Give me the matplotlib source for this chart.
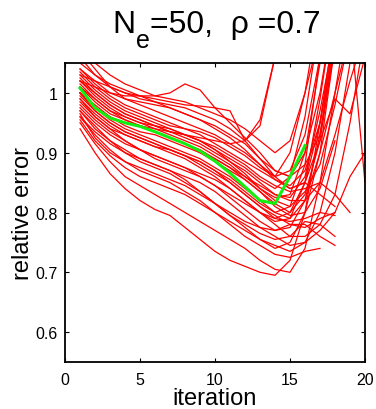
import matplotlib
matplotlib.use("Agg")
import matplotlib.pyplot as plt

plt.rcParams['font.family'] = ['Liberation Sans', 'DejaVu Sans']

# Relative error of each ensemble run per iteration (iterations start at 1)
runs = [
    [0.94, 0.90, 0.865, 0.84, 0.82, 0.805, 0.795, 0.775, 0.755, 0.735, 0.72, 0.71, 0.70, 0.695, 0.72, 0.80, 0.95, 1.12],
    [0.95, 0.915, 0.885, 0.86, 0.845, 0.83, 0.815, 0.80, 0.785, 0.77, 0.755, 0.74, 0.72, 0.705, 0.70, 0.74, 0.85, 1.0, 1.15],
    [0.96, 0.93, 0.905, 0.885, 0.87, 0.86, 0.85, 0.835, 0.82, 0.80, 0.78, 0.76, 0.745, 0.73, 0.725, 0.735, 0.74],
    [0.97, 0.945, 0.92, 0.90, 0.89, 0.88, 0.87, 0.855, 0.835, 0.815, 0.795, 0.775, 0.755, 0.74, 0.75, 0.80, 0.90, 1.08],
    [0.98, 0.955, 0.935, 0.92, 0.905, 0.895, 0.885, 0.875, 0.86, 0.845, 0.825, 0.805, 0.785, 0.77, 0.775, 0.82, 0.93, 1.10],
    [0.99, 0.965, 0.945, 0.93, 0.92, 0.91, 0.90, 0.89, 0.875, 0.86, 0.84, 0.82, 0.80, 0.785, 0.79, 0.85, 0.99, 1.15],
    [1.00, 0.975, 0.955, 0.94, 0.93, 0.92, 0.91, 0.90, 0.89, 0.875, 0.86, 0.84, 0.82, 0.80, 0.81, 0.88, 1.06],
    [1.01, 0.985, 0.965, 0.955, 0.945, 0.935, 0.925, 0.915, 0.90, 0.885, 0.87, 0.855, 0.835, 0.815, 0.80, 0.83, 0.92, 1.08],
    [1.02, 0.995, 0.975, 0.96, 0.95, 0.94, 0.93, 0.92, 0.91, 0.895, 0.88, 0.86, 0.84, 0.825, 0.83, 0.90, 1.05, 1.2],
    [1.03, 1.005, 0.985, 0.97, 0.96, 0.95, 0.94, 0.93, 0.92, 0.905, 0.89, 0.875, 0.855, 0.84, 0.86, 0.96, 1.12],
    [1.04, 1.015, 0.995, 0.98, 0.97, 0.96, 0.95, 0.94, 0.93, 0.915, 0.90, 0.885, 0.87, 0.855, 0.845, 0.87, 0.95, 1.1],
    [1.07, 1.04, 1.01, 0.99, 0.98, 0.97, 0.96, 0.95, 0.94, 0.93, 0.915, 0.90, 0.88, 0.86, 0.90, 1.0, 1.15],
    [1.02, 1.01, 1.0, 0.995, 0.995, 0.995, 1.0, 1.015, 1.005, 0.975, 0.95, 0.925, 0.90, 0.87, 0.86, 0.90, 1.0, 1.15],
    [1.03, 1.02, 1.01, 1.0, 0.995, 0.99, 0.985, 0.98, 0.978, 0.975, 0.97, 0.92, 0.945, 1.06],
    [1.06, 1.03, 1.01, 1.0, 0.99, 0.985, 0.98, 0.975, 0.965, 0.955, 0.94, 0.92, 0.89, 0.86, 0.84, 0.85, 0.83, 0.81],
    [1.0, 0.97, 0.95, 0.935, 0.925, 0.915, 0.905, 0.895, 0.885, 0.87, 0.85, 0.83, 0.81, 0.79, 0.785, 0.79, 0.80, 0.795],
    [0.99, 0.96, 0.94, 0.92, 0.905, 0.89, 0.88, 0.87, 0.86, 0.845, 0.83, 0.815, 0.80, 0.79, 0.80, 0.85, 0.95, 1.08],
    [1.01, 0.99, 0.97, 0.96, 0.95, 0.945, 0.94, 0.93, 0.92, 0.905, 0.885, 0.865, 0.84, 0.82, 0.81, 0.835, 0.88, 0.98, 1.1],
    [0.975, 0.95, 0.93, 0.915, 0.905, 0.895, 0.885, 0.875, 0.865, 0.855, 0.84, 0.82, 0.80, 0.78, 0.76, 0.76, 0.78, 0.83, 0.95, 1.1],
    [1.02, 1.0, 0.98, 0.965, 0.955, 0.945, 0.935, 0.925, 0.915, 0.90, 0.885, 0.87, 0.85, 0.83, 0.825, 0.86, 0.97, 1.1],
    [0.985, 0.96, 0.94, 0.93, 0.92, 0.91, 0.905, 0.895, 0.88, 0.865, 0.85, 0.83, 0.81, 0.795, 0.78, 0.775, 0.79, 0.80],
    [1.0, 0.98, 0.96, 0.945, 0.935, 0.93, 0.92, 0.91, 0.90, 0.89, 0.875, 0.855, 0.835, 0.81, 0.795, 0.80, 0.84, 0.92],
    [0.96, 0.935, 0.915, 0.90, 0.885, 0.875, 0.865, 0.85, 0.835, 0.815, 0.795, 0.78, 0.765, 0.755, 0.76, 0.785, 0.78, 0.76],
    [1.035, 1.01, 0.99, 0.975, 0.965, 0.955, 0.945, 0.94, 0.935, 0.925, 0.91, 0.895, 0.875, 0.86, 0.87, 0.93, 1.06],
    [1.015, 0.99, 0.97, 0.955, 0.945, 0.935, 0.925, 0.915, 0.905, 0.89, 0.875, 0.86, 0.845, 0.83, 0.82, 0.82, 0.85, 0.93, 1.02, 1.1],
    [1.05, 1.03, 1.015, 1.005, 0.995, 0.985, 0.975, 0.965, 0.955, 0.945, 0.93, 0.915, 0.89, 0.87, 0.86, 0.88, 0.93, 1.08, 1.12, 0.85],
    [0.97, 0.94, 0.92, 0.905, 0.89, 0.88, 0.87, 0.86, 0.85, 0.835, 0.815, 0.795, 0.775, 0.76, 0.745, 0.75, 0.77, 0.80, 0.86, 0.90],
    [1.04, 1.02, 1.0, 0.99, 0.985, 0.98, 0.975, 0.965, 0.955, 0.94, 0.925, 0.905, 0.88, 0.855, 0.84, 0.85, 0.92, 0.99, 0.965, 1.06],
    [0.955, 0.92, 0.895, 0.875, 0.86, 0.85, 0.84, 0.83, 0.815, 0.80, 0.785, 0.77, 0.755, 0.745, 0.735, 0.75, 0.80, 0.90, 1.05, 1.1],
    [0.995, 0.97, 0.95, 0.935, 0.925, 0.915, 0.905, 0.895, 0.885, 0.87, 0.855, 0.835, 0.815, 0.80, 0.79, 0.82, 0.90, 1.0, 1.1],
    [1.025, 1.0, 0.98, 0.965, 0.955, 0.945, 0.935, 0.93, 0.92, 0.91, 0.895, 0.88, 0.86, 0.845, 0.835, 0.84, 0.85, 0.83, 0.80],
    [1.08, 1.05, 1.03, 1.015, 1.005, 0.995, 0.99, 0.985, 0.975, 0.965, 0.955, 0.94, 0.92, 0.90, 0.92, 1.0, 1.1],
    [1.0, 0.975, 0.96, 0.95, 0.945, 0.94, 0.935, 0.93, 0.925, 0.92, 0.915, 0.92, 0.955, 1.06],
    [0.965, 0.925, 0.90, 0.885, 0.875, 0.865, 0.855, 0.845, 0.83, 0.815, 0.80, 0.785, 0.775, 0.77, 0.78, 0.78, 0.76, 0.745],
]

# Ensemble mean
mean_error = [1.008, 0.975, 0.958, 0.95, 0.944, 0.935, 0.925, 0.915, 0.903, 0.886,
              0.866, 0.843, 0.82, 0.815, 0.86, 0.912]

x_ticks = [0, 5, 10, 15, 20]
y_ticks = [0.6, 0.7, 0.8, 0.9, 1.0]
y_tick_labels = ['0.6', '0.7', '0.8', '0.9', '1']

fig = plt.figure(figsize=(3.76, 4.10), dpi=100)
ax = fig.add_axes([0.1729, 0.1146, 0.7978, 0.7293])

for r in runs:
    ax.plot(range(1, len(r) + 1), r, color='#ff0000', lw=0.9)
ax.plot(range(1, len(mean_error) + 1), mean_error, color='#11ee11', lw=2.2)

ax.set_xlim(0, 20)
ax.set_ylim(0.55, 1.05)
ax.set_xticks(x_ticks)
ax.set_yticks(y_ticks)
ax.set_yticklabels(y_tick_labels)
ax.tick_params(direction='in', top=True, right=True, labelsize=11.5,
               length=3, width=0.8)
ax.tick_params(axis='x', pad=7)
ax.tick_params(axis='y', pad=5)
for s in ax.spines.values():
    s.set_linewidth(1.3)

ax.set_xlabel('iteration', fontsize=17, labelpad=0)
ax.set_ylabel('relative error', fontsize=17, labelpad=1)

# Title built from pieces so the subscript keeps a near full size
fig.canvas.draw()
renderer = fig.canvas.get_renderer()
W, H = fig.bbox.width, fig.bbox.height
baseline = 1 - 33 / 410
t1 = fig.text(112 / W, baseline, 'N', fontsize=23, va='baseline', ha='left')
bb = t1.get_window_extent(renderer)
t2 = fig.text((bb.x1 + 1) / W, baseline - 15 / H, 'e', fontsize=18,
              va='baseline', ha='left')
bb2 = t2.get_window_extent(renderer)
fig.text(bb2.x1 / W, baseline, '=50,  ρ =0.7', fontsize=23,
         va='baseline', ha='left')

fig.savefig('out.png', dpi=100)
